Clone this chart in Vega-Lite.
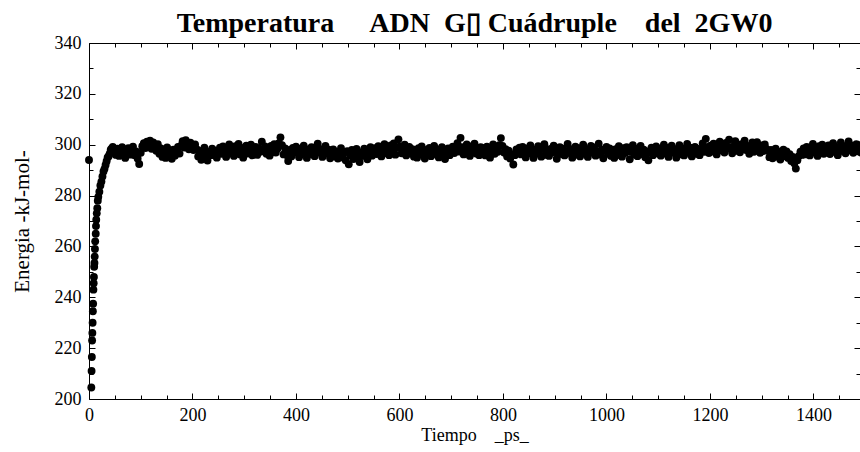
{
"$schema": "https://vega.github.io/schema/vega-lite/v6.json",
"width": 771, "height": 356,
"autosize": {"type": "none"},
"padding": {"left": 89, "top": 43, "right": 0, "bottom": 53},
"background": "white",
"title": {"text": "Temperatura\u00a0\u00a0\u00a0\u00a0\u00a0ADN\u00a0\u00a0G▯\u00a0Cuádruple\u00a0\u00a0\u00a0\u00a0del\u00a0\u00a02GW0", "font": "Liberation Serif", "fontSize": 28, "fontWeight": "bold", "color": "#000", "anchor": "middle", "offset": -4},
"config": {"view": {"stroke": null},
 "axis": {"domainColor": "#000", "tickColor": "#000", "labelColor": "#000", "titleColor": "#000", "labelFont": "Liberation Serif", "titleFont": "Liberation Serif", "labelFontSize": 18, "titleFontWeight": "normal", "grid": false, "labelOverlap": false, "labelFlush": false, "domainWidth": 1, "tickWidth": 1, "format": "d"}},
"layer": [
 {"data": {"values": [
{"t":0,"e":294},{"t":4.5,"e":204.5},{"t":5,"e":211},{"t":5.5,"e":216.5},{"t":6,"e":223},{"t":6.5,"e":226},{"t":7,"e":230},{"t":7.5,"e":234.5},{"t":8,"e":237.5},{"t":8.5,"e":243},{"t":9,"e":245.5},{"t":9.5,"e":248},{"t":10,"e":252},{"t":10.5,"e":253.5},{"t":11,"e":256},{"t":11.5,"e":259},{"t":12,"e":262},{"t":13,"e":265},{"t":13.5,"e":268},{"t":14,"e":270.5},{"t":15,"e":273},{"t":16,"e":275},{"t":17,"e":278},{"t":18,"e":279.5},{"t":20,"e":281.5},{"t":22,"e":284},{"t":24,"e":285.5},{"t":26,"e":287.5},{"t":28,"e":289.5},{"t":30,"e":290.5},{"t":32,"e":292},{"t":34,"e":293.5},{"t":36,"e":295},{"t":38,"e":295.5},{"t":40,"e":296.5},{"t":42,"e":298},{"t":44,"e":298.5},
{"t":46,"e":299.1},{"t":49,"e":297.8},{"t":52,"e":296.0},{"t":55,"e":298.4},{"t":58,"e":295.6},{"t":61,"e":297.9},{"t":64,"e":299.0},{"t":67,"e":296.3},{"t":70,"e":294.8},{"t":73,"e":297.5},{"t":76,"e":298.6},{"t":79,"e":296.1},{"t":82,"e":297.0},{"t":85,"e":299.2},{"t":88,"e":295.9},{"t":91,"e":297.4},{"t":94,"e":294.6},{"t":97,"e":292.4},
{"t":100,"e":296.8},{"t":103,"e":299.4},{"t":106,"e":300.6},{"t":109,"e":298.7},{"t":112,"e":301.2},{"t":115,"e":299.8},{"t":118,"e":301.6},{"t":121,"e":298.4},{"t":124,"e":300.9},{"t":127,"e":299.1},{"t":130,"e":297.6},{"t":133,"e":300.2},
{"t":136,"e":296.4},{"t":139,"e":298.5},{"t":142,"e":295.2},{"t":145,"e":297.7},{"t":148,"e":294.8},{"t":151,"e":298.9},{"t":154,"e":296.1},{"t":157,"e":297.4},{"t":160,"e":294.5},{"t":163,"e":298.0},{"t":166,"e":295.7},{"t":169,"e":297.9},{"t":172,"e":299.1},{"t":175,"e":296.5},
{"t":178,"e":299.6},{"t":181,"e":301.4},{"t":184,"e":298.9},{"t":187,"e":301.8},{"t":190,"e":300.3},{"t":193,"e":298.2},{"t":196,"e":300.8},{"t":199,"e":299.4},{"t":202,"e":297.9},{"t":205,"e":300.1},
{"t":208,"e":298.2},{"t":211,"e":295.4},{"t":214,"e":297.6},{"t":217,"e":294.1},{"t":220,"e":296.9},{"t":223,"e":298.8},{"t":226,"e":295.3},{"t":229,"e":293.8},{"t":232,"e":297.2},{"t":235,"e":295.9},{"t":238,"e":298.4},{"t":241,"e":296.0},{"t":244,"e":297.7},{"t":247,"e":294.9},{"t":250,"e":297.3},
{"t":253,"e":298.8},{"t":256,"e":296.4},{"t":259,"e":299.3},{"t":262,"e":297.1},{"t":265,"e":295.2},{"t":268,"e":298.6},{"t":271,"e":300.1},{"t":274,"e":296.8},{"t":277,"e":298.0},{"t":280,"e":295.6},{"t":283,"e":299.4},{"t":286,"e":297.3},{"t":289,"e":300.3},{"t":292,"e":296.2},{"t":295,"e":298.7},{"t":298,"e":294.9},{"t":301,"e":297.8},{"t":304,"e":299.6},{"t":307,"e":296.5},{"t":310,"e":298.3},{"t":313,"e":300.0},{"t":316,"e":295.8},{"t":319,"e":297.4},{"t":322,"e":299.1},{"t":325,"e":296.0},{"t":328,"e":298.5},{"t":331,"e":297.2},
{"t":334,"e":301.2},{"t":337,"e":297.6},{"t":340,"e":299.3},{"t":343,"e":296.4},{"t":346,"e":298.8},{"t":349,"e":295.7},{"t":352,"e":299.5},{"t":355,"e":297.0},{"t":358,"e":300.2},{"t":361,"e":296.9},{"t":364,"e":298.4},{"t":367,"e":300.6},{"t":370,"e":302.9},{"t":373,"e":299.8},{"t":376,"e":296.2},{"t":379,"e":298.5},
{"t":382,"e":296.0},{"t":385,"e":293.6},{"t":388,"e":297.9},{"t":391,"e":295.4},{"t":394,"e":298.7},{"t":397,"e":296.8},{"t":400,"e":299.2},{"t":403,"e":297.0},{"t":406,"e":295.1},{"t":409,"e":298.4},{"t":412,"e":296.6},{"t":415,"e":299.6},{"t":418,"e":297.5},{"t":421,"e":294.8},{"t":424,"e":298.1},{"t":427,"e":296.3},{"t":430,"e":299.0},{"t":433,"e":297.7},{"t":436,"e":295.5},{"t":439,"e":298.9},{"t":442,"e":300.4},{"t":445,"e":296.9},{"t":448,"e":298.2},{"t":451,"e":295.2},{"t":454,"e":297.6},{"t":457,"e":299.5},{"t":460,"e":296.4},{"t":463,"e":298.0},{"t":466,"e":294.7},{"t":469,"e":297.3},
{"t":472,"e":298.1},{"t":475,"e":295.4},{"t":478,"e":297.2},{"t":481,"e":294.6},{"t":484,"e":296.9},{"t":487,"e":298.6},{"t":490,"e":295.0},{"t":493,"e":296.8},{"t":496,"e":293.9},{"t":499,"e":297.5},{"t":502,"e":292.3},{"t":505,"e":295.8},{"t":508,"e":297.9},{"t":511,"e":294.4},{"t":514,"e":296.6},{"t":517,"e":298.3},{"t":520,"e":295.1},{"t":523,"e":293.2},{"t":526,"e":297.0},{"t":529,"e":295.6},{"t":532,"e":298.4},{"t":535,"e":296.2},{"t":538,"e":294.3},{"t":541,"e":297.4},{"t":544,"e":299.0},{"t":547,"e":295.7},{"t":550,"e":297.1},
{"t":553,"e":298.6},{"t":556,"e":296.3},{"t":559,"e":299.4},{"t":562,"e":297.1},{"t":565,"e":295.4},{"t":568,"e":298.9},{"t":571,"e":300.2},{"t":574,"e":296.7},{"t":577,"e":298.3},{"t":580,"e":295.9},{"t":583,"e":299.7},{"t":586,"e":297.4},{"t":589,"e":300.5},{"t":592,"e":296.1},{"t":595,"e":298.8},{"t":598,"e":302.1},{"t":601,"e":299.3},{"t":604,"e":296.6},{"t":607,"e":298.1},{"t":610,"e":300.0},{"t":613,"e":295.8},{"t":616,"e":297.6},{"t":619,"e":299.1},
{"t":622,"e":296.5},{"t":625,"e":298.2},{"t":628,"e":295.3},{"t":631,"e":297.8},{"t":634,"e":294.9},{"t":637,"e":298.6},{"t":640,"e":296.2},{"t":643,"e":299.3},{"t":646,"e":297.0},{"t":649,"e":294.6},{"t":652,"e":297.9},{"t":655,"e":296.1},{"t":658,"e":298.7},{"t":661,"e":295.5},{"t":664,"e":297.4},{"t":667,"e":299.5},{"t":670,"e":296.3},{"t":673,"e":298.0},{"t":676,"e":295.0},{"t":679,"e":297.6},{"t":682,"e":299.0},{"t":685,"e":296.8},{"t":688,"e":294.4},{"t":691,"e":297.3},{"t":694,"e":298.5},{"t":697,"e":295.9},{"t":700,"e":297.8},
{"t":703,"e":299.2},{"t":706,"e":296.7},{"t":709,"e":298.9},{"t":712,"e":300.6},{"t":715,"e":297.3},{"t":718,"e":302.7},{"t":721,"e":299.0},{"t":724,"e":296.2},{"t":727,"e":298.4},{"t":730,"e":300.1},{"t":733,"e":297.0},{"t":736,"e":295.6},{"t":739,"e":299.3},{"t":742,"e":297.8},{"t":745,"e":300.4},{"t":748,"e":296.5},{"t":751,"e":298.7},{"t":754,"e":295.9},{"t":757,"e":299.0},{"t":760,"e":297.4},
{"t":763,"e":298.6},{"t":766,"e":295.8},{"t":769,"e":299.2},{"t":772,"e":297.0},{"t":775,"e":294.9},{"t":778,"e":298.3},{"t":781,"e":300.1},{"t":784,"e":296.4},{"t":787,"e":298.9},{"t":790,"e":297.2},{"t":793,"e":299.8},{"t":796,"e":302.6},{"t":799,"e":299.5},{"t":802,"e":296.9},{"t":805,"e":298.2},{"t":808,"e":295.4},{"t":811,"e":297.7},{"t":814,"e":294.6},{"t":817,"e":296.3},{"t":820,"e":292.2},{"t":823,"e":295.9},{"t":826,"e":298.1},{"t":829,"e":296.7},
{"t":832,"e":298.8},{"t":835,"e":296.2},{"t":838,"e":299.1},{"t":841,"e":297.4},{"t":844,"e":295.0},{"t":847,"e":298.5},{"t":850,"e":296.6},{"t":853,"e":299.7},{"t":856,"e":297.1},{"t":859,"e":294.8},{"t":862,"e":298.0},{"t":865,"e":296.4},{"t":868,"e":299.4},{"t":871,"e":297.8},{"t":874,"e":295.3},{"t":877,"e":298.6},{"t":880,"e":300.2},{"t":883,"e":296.0},{"t":886,"e":297.9},{"t":889,"e":295.6},{"t":892,"e":298.3},{"t":895,"e":296.9},{"t":898,"e":299.6},{"t":901,"e":297.2},{"t":904,"e":294.5},{"t":907,"e":297.7},{"t":910,"e":299.0},{"t":913,"e":296.3},{"t":916,"e":298.4},{"t":919,"e":295.8},{"t":922,"e":297.5},{"t":925,"e":300.3},{"t":928,"e":296.7},{"t":931,"e":298.2},{"t":934,"e":294.9},{"t":937,"e":297.0},{"t":940,"e":299.2},{"t":943,"e":296.1},{"t":946,"e":298.6},{"t":949,"e":295.4},{"t":952,"e":297.8},{"t":955,"e":300.0},{"t":958,"e":296.5},{"t":961,"e":298.1},{"t":964,"e":295.2},{"t":967,"e":297.4},{"t":970,"e":299.5},{"t":973,"e":296.8},{"t":976,"e":298.9},{"t":979,"e":295.7},{"t":982,"e":297.3},{"t":985,"e":300.4},{"t":988,"e":296.2},{"t":991,"e":298.0},{"t":994,"e":294.7},{"t":997,"e":297.6},{"t":1000,"e":299.1},
{"t":1003,"e":296.4},{"t":1006,"e":298.5},{"t":1009,"e":295.6},{"t":1012,"e":297.9},{"t":1015,"e":294.8},{"t":1018,"e":298.2},{"t":1021,"e":296.0},{"t":1024,"e":299.4},{"t":1027,"e":297.1},{"t":1030,"e":295.3},{"t":1033,"e":298.6},{"t":1036,"e":296.7},{"t":1039,"e":299.0},{"t":1042,"e":297.5},{"t":1045,"e":294.3},{"t":1048,"e":297.2},{"t":1051,"e":299.8},{"t":1054,"e":296.1},{"t":1057,"e":298.3},{"t":1060,"e":295.5},{"t":1063,"e":297.6},{"t":1066,"e":299.5},{"t":1069,"e":296.3},{"t":1072,"e":298.0},{"t":1075,"e":295.1},{"t":1078,"e":297.4},{"t":1081,"e":293.9},{"t":1084,"e":296.8},{"t":1087,"e":298.8},{"t":1090,"e":295.9},{"t":1093,"e":297.7},{"t":1096,"e":299.3},{"t":1099,"e":296.6},
{"t":1102,"e":298.4},{"t":1105,"e":295.7},{"t":1108,"e":297.9},{"t":1111,"e":300.0},{"t":1114,"e":296.5},{"t":1117,"e":298.7},{"t":1120,"e":295.2},{"t":1123,"e":297.6},{"t":1126,"e":299.6},{"t":1129,"e":296.8},{"t":1132,"e":298.2},{"t":1135,"e":294.9},{"t":1138,"e":297.3},{"t":1141,"e":299.8},{"t":1144,"e":296.2},{"t":1147,"e":298.5},{"t":1150,"e":295.8},{"t":1153,"e":297.8},{"t":1156,"e":300.3},{"t":1159,"e":296.9},{"t":1162,"e":298.8},{"t":1165,"e":295.4},{"t":1168,"e":297.5},{"t":1171,"e":299.1},{"t":1174,"e":296.4},{"t":1177,"e":298.3},{"t":1180,"e":295.9},{"t":1183,"e":298.0},{"t":1186,"e":300.5},{"t":1189,"e":297.2},{"t":1192,"e":302.3},{"t":1195,"e":299.0},{"t":1198,"e":296.7},
{"t":1201,"e":299.6},{"t":1204,"e":297.3},{"t":1207,"e":300.4},{"t":1210,"e":298.1},{"t":1213,"e":296.2},{"t":1216,"e":299.5},{"t":1219,"e":301.2},{"t":1222,"e":297.8},{"t":1225,"e":299.9},{"t":1228,"e":296.9},{"t":1231,"e":300.7},{"t":1234,"e":298.4},{"t":1237,"e":302.0},{"t":1240,"e":299.0},{"t":1243,"e":296.6},{"t":1246,"e":299.3},{"t":1249,"e":301.4},{"t":1252,"e":297.6},{"t":1255,"e":299.8},{"t":1258,"e":297.0},{"t":1261,"e":300.2},{"t":1264,"e":298.6},{"t":1267,"e":301.6},{"t":1270,"e":297.9},{"t":1273,"e":299.5},{"t":1276,"e":296.4},{"t":1279,"e":298.9},{"t":1282,"e":300.9},{"t":1285,"e":297.2},{"t":1288,"e":299.4},{"t":1291,"e":301.0},{"t":1294,"e":298.0},{"t":1297,"e":296.8},{"t":1300,"e":299.7},{"t":1303,"e":297.5},{"t":1306,"e":300.1},{"t":1309,"e":298.3},
{"t":1312,"e":297.6},{"t":1315,"e":295.1},{"t":1318,"e":297.9},{"t":1321,"e":294.7},{"t":1324,"e":296.9},{"t":1327,"e":298.4},{"t":1330,"e":295.3},{"t":1333,"e":297.2},{"t":1336,"e":294.2},{"t":1339,"e":296.6},{"t":1342,"e":298.0},{"t":1345,"e":295.5},{"t":1348,"e":297.4},{"t":1351,"e":294.8},{"t":1354,"e":296.3},{"t":1357,"e":293.6},{"t":1360,"e":295.2},{"t":1363,"e":292.7},{"t":1366,"e":290.6},{"t":1369,"e":293.9},{"t":1372,"e":295.6},{"t":1375,"e":297.3},{"t":1378,"e":296.0},
{"t":1381,"e":298.5},{"t":1384,"e":296.2},{"t":1387,"e":299.1},{"t":1390,"e":297.4},{"t":1393,"e":295.8},{"t":1396,"e":298.7},{"t":1399,"e":300.3},{"t":1402,"e":296.9},{"t":1405,"e":298.2},{"t":1408,"e":295.6},{"t":1411,"e":299.4},{"t":1414,"e":297.6},{"t":1417,"e":300.0},{"t":1420,"e":296.4},{"t":1423,"e":298.8},{"t":1426,"e":297.1},{"t":1429,"e":299.7},{"t":1432,"e":296.3},{"t":1435,"e":298.5},{"t":1438,"e":300.6},{"t":1441,"e":297.2},{"t":1444,"e":299.0},{"t":1447,"e":295.9},{"t":1450,"e":298.3},{"t":1453,"e":300.9},{"t":1456,"e":297.5},{"t":1459,"e":299.4},{"t":1462,"e":296.6},{"t":1465,"e":298.9},{"t":1468,"e":301.3},{"t":1471,"e":297.8},{"t":1474,"e":299.6},{"t":1477,"e":296.8},{"t":1480,"e":298.6},{"t":1483,"e":300.2},{"t":1486,"e":297.4},{"t":1489,"e":299.8},{"t":1492,"e":296.9},{"t":1495,"e":298.8},{"t":1498,"e":297.6}
 ]},
 "mark": {"type": "point", "filled": true, "shape": "circle", "size": 62, "color": "#000", "opacity": 1},
 "encoding": {
  "x": {"field": "t", "type": "quantitative", "scale": {"domain": [0, 1490], "nice": false, "zero": false},
   "axis": {"orient": "bottom", "title": "Tiempo\u00a0\u00a0\u00a0\u00a0_ps_", "titleFontSize": 18, "titlePadding": 0,
    "values": [0,50,100,150,200,250,300,350,400,450,500,550,600,650,700,750,800,850,900,950,1000,1050,1100,1150,1200,1250,1300,1350,1400,1450],
    "tickSize": {"condition": {"test": "datum.value % 200 === 0", "value": -6}, "value": -4},
    "labelExpr": "datum.value % 200 === 0 ? datum.label : ''", "labelPadding": 13}},
  "y": {"field": "e", "type": "quantitative", "scale": {"domain": [200, 340], "nice": false, "zero": false},
   "axis": {"orient": "left", "title": "Energia -kJ-mol-", "titleFontSize": 21, "titlePadding": 22,
    "values": [200,210,220,230,240,250,260,270,280,290,300,310,320,330,340],
    "tickSize": {"condition": {"test": "datum.value % 20 === 0", "value": -6}, "value": -4},
    "labelExpr": "datum.value % 20 === 0 ? datum.label : ''", "labelPadding": 14}}
 }},
 {"data": {"values": [{"t": 0, "e": 200}]},
  "mark": {"type": "point", "opacity": 0},
  "encoding": {
   "x": {"field": "t", "type": "quantitative", "axis": {"orient": "top", "title": null, "labels": false,
    "values": [0,50,100,150,200,250,300,350,400,450,500,550,600,650,700,750,800,850,900,950,1000,1050,1100,1150,1200,1250,1300,1350,1400,1450],
    "tickSize": {"condition": {"test": "datum.value % 200 === 0", "value": -6}, "value": -4}}},
   "y": {"field": "e", "type": "quantitative", "axis": {"orient": "right", "title": null, "labels": false, "domain": false,
    "values": [200,210,220,230,240,250,260,270,280,290,300,310,320,330,340],
    "tickSize": {"condition": {"test": "datum.value % 20 === 0", "value": -6}, "value": -4}}}
  }}
],
"resolve": {"axis": {"x": "independent", "y": "independent"}}
}
